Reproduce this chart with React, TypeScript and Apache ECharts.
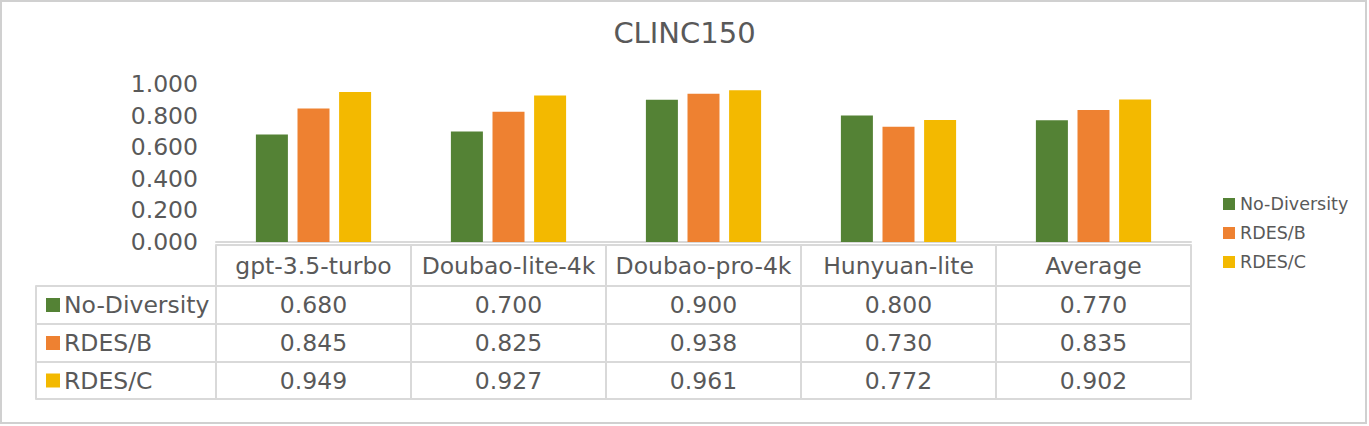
import React, { useEffect, useRef } from "react";
import * as echarts from "echarts";

const title = "CLINC150";
const categories = ["gpt-3.5-turbo", "Doubao-lite-4k", "Doubao-pro-4k", "Hunyuan-lite", "Average"];
const seriesNames = ["No-Diversity", "RDES/B", "RDES/C"];
const noDiversity = [0.68, 0.7, 0.9, 0.8, 0.77];
const rdesB = [0.845, 0.825, 0.938, 0.73, 0.835];
const rdesC = [0.949, 0.927, 0.961, 0.772, 0.902];
const seriesValues = [noDiversity, rdesB, rdesC];
const seriesColors = ["#548235", "#EE8131", "#F3B900"];
const yMin = 0;
const yMax = 1;
const yInterval = 0.2;

const FONT = "DejaVu Sans";
const TEXT = "#595959";
const LINE = "#D9D9D9";

export default function App() {
  const ref = useRef<HTMLDivElement>(null);

  useEffect(() => {
    if (!ref.current) return;
    const chart = echarts.init(ref.current, undefined, { renderer: "svg" });

    const gridTop = 84;
    const gridHeight = 158;
    // row line offsets below the plot bottom
    const tableTop = 3;
    const rowLines = [44, 82, 120, 157];
    const rowMargins = [19, 19, 18.5];

    const lineStyle = { color: LINE, width: 2 };
    const axisLine = { show: true, onZero: false, lineStyle };

    const xAxes: any[] = [];
    // axis line of the plot
    xAxes.push({
      type: "category",
      gridIndex: 0,
      data: categories,
      position: "bottom",
      offset: 0,
      axisLine,
      axisTick: { show: false },
      axisLabel: { show: false },
    });
    // table header row (top line + vertical cell borders)
    xAxes.push({
      type: "category",
      gridIndex: 0,
      data: categories,
      position: "bottom",
      offset: tableTop,
      axisLine,
      axisTick: { show: true, length: rowLines[3] - tableTop, lineStyle, interval: 0 },
      axisLabel: {
        show: true,
        interval: 0,
        margin: 20.5,
        verticalAlign: "middle",
        color: TEXT,
        fontFamily: FONT,
        fontSize: 23.5,
      },
    });
    // data rows
    seriesValues.forEach((vals, k) => {
      xAxes.push({
        type: "category",
        gridIndex: 0,
        data: categories,
        position: "bottom",
        offset: rowLines[k],
        axisLine,
        axisTick: { show: false },
        axisLabel: {
          show: true,
          interval: 0,
          margin: rowMargins[k],
          verticalAlign: "middle",
          color: TEXT,
          fontFamily: FONT,
          fontSize: 23.5,
          formatter: (_v: string, i: number) => vals[i].toFixed(3),
        },
      });
    });
    xAxes.push({
      type: "category",
      gridIndex: 0,
      data: categories,
      position: "bottom",
      offset: rowLines[3],
      axisLine,
      axisTick: { show: false },
      axisLabel: { show: false },
    });

    // left column of the table (series names)
    const rich: any = { t: { color: TEXT, fontFamily: FONT, fontSize: 23.5, padding: [0, 0, 0, 4] } };
    seriesColors.forEach((c, k) => {
      rich["sq" + k] = { width: 14, height: 14, backgroundColor: c };
    });
    seriesNames.forEach((name, k) => {
      xAxes.push({
        type: "value",
        gridIndex: 1,
        min: 0,
        max: 1,
        interval: 1,
        position: "bottom",
        offset: rowLines[k],
        axisLine,
        axisTick: k === 0 ? { show: true, length: rowLines[3] - rowLines[0], lineStyle } : { show: false },
        splitLine: { show: false },
        axisLabel: {
          show: true,
          showMinLabel: true,
          showMaxLabel: true,
          margin: rowMargins[k],
          verticalAlign: "middle",
          align: "left",
          padding: [0, 0, 0, 10],
          formatter: (v: number) => (v === 0 ? `{sq${k}|}{t|${name}}` : ""),
          rich,
        },
      });
    });
    xAxes.push({
      type: "value",
      gridIndex: 1,
      min: 0,
      max: 1,
      interval: 1,
      position: "bottom",
      offset: rowLines[3],
      axisLine,
      axisTick: { show: false },
      splitLine: { show: false },
      axisLabel: { show: false },
    });

    chart.setOption({
      animation: false,
      backgroundColor: "#ffffff",
      textStyle: { fontFamily: FONT },
      title: {
        text: title,
        left: "center",
        top: 13,
        textStyle: { color: TEXT, fontFamily: FONT, fontSize: 29, fontWeight: "normal" },
      },
      legend: {
        data: seriesNames,
        orient: "vertical",
        left: 1218,
        top: 190,
        icon: "rect",
        itemWidth: 12,
        itemHeight: 12,
        itemGap: 11,
        textStyle: { color: TEXT, fontFamily: FONT, fontSize: 17.5 },
      },
      graphic: [
        {
          type: "rect",
          shape: { x: 1, y: 1, width: 1365, height: 422 },
          style: { fill: "none", stroke: "#D0D0D0", lineWidth: 2 },
          silent: true,
        },
      ],
      grid: [
        { left: 216, right: 178, top: gridTop, height: gridHeight },
        { left: 36, width: 180, top: gridTop, height: gridHeight },
      ],
      xAxis: xAxes,
      yAxis: [
        {
          type: "value",
          gridIndex: 0,
          min: yMin,
          max: yMax,
          interval: yInterval,
          axisLine: { show: false },
          axisTick: { show: false },
          splitLine: { show: false },
          axisLabel: {
            margin: 18,
            color: TEXT,
            fontFamily: FONT,
            fontSize: 23.5,
            formatter: (v: number) => v.toFixed(3),
          },
        },
        { type: "value", gridIndex: 1, show: false, min: 0, max: 1 },
      ],
      series: seriesNames.map((name, k) => ({
        name,
        type: "bar",
        xAxisIndex: 0,
        yAxisIndex: 0,
        data: seriesValues[k],
        barWidth: 32,
        barGap: "30%",
        itemStyle: { color: seriesColors[k] },
      })),
    });

    return () => chart.dispose();
  }, []);

  return (
    <div
      ref={ref}
      style={{ position: "fixed", left: 0, top: 0, width: 1369, height: 426, background: "#fff" }}
    />
  );
}
